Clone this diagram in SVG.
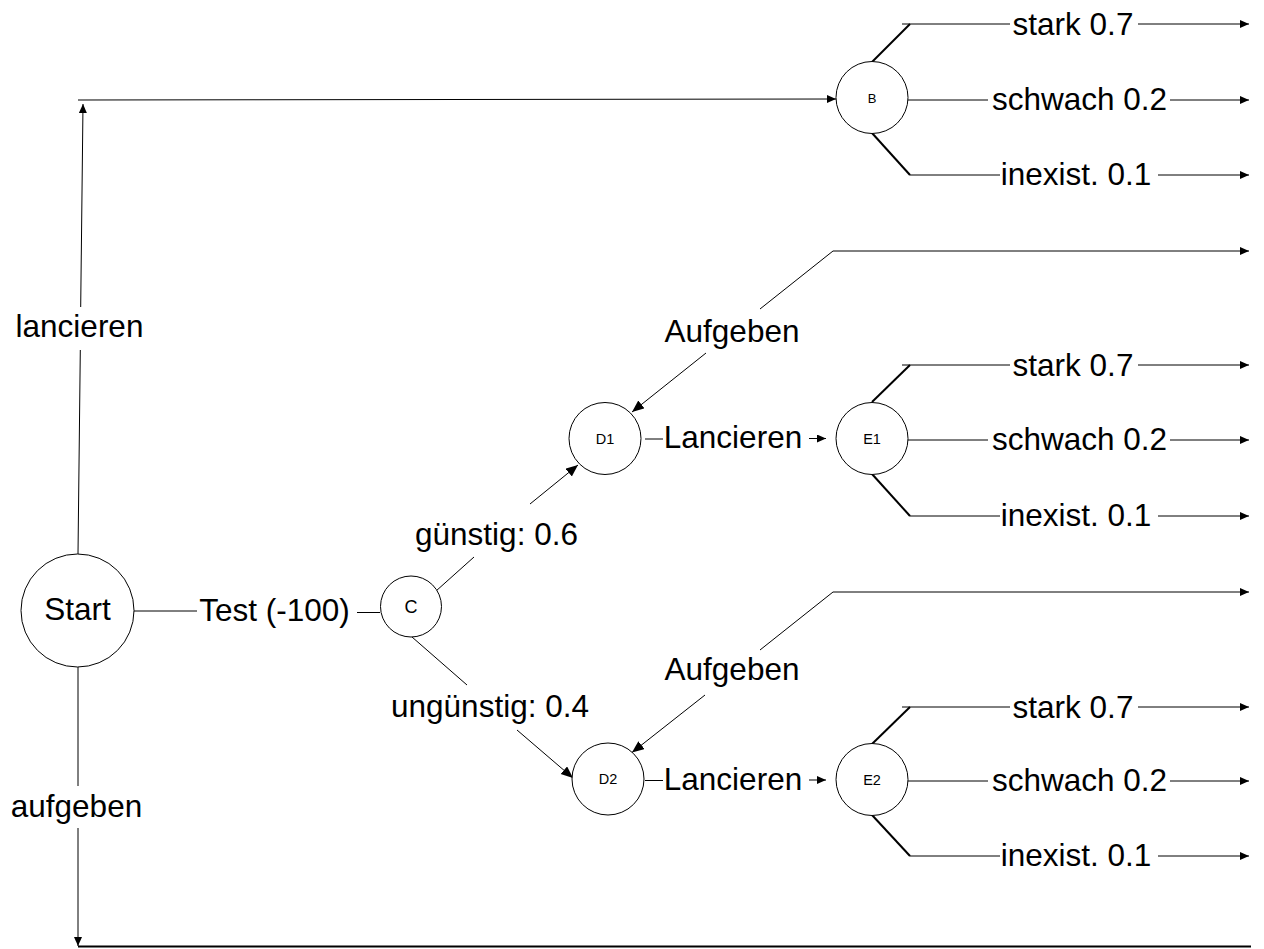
<svg xmlns="http://www.w3.org/2000/svg" width="1264" height="949" viewBox="0 0 1264 949">
<style>
  .bg{fill:#fff}
  .node{fill:#fff;stroke:#000;stroke-width:1}
  .ln{stroke:#000;stroke-width:1;fill:none}
  .thick{stroke:#000;stroke-width:2;fill:none}
  .lbl{font-family:"Liberation Sans",Arial,sans-serif;font-size:31.5px;fill:#000;text-anchor:middle}
  .nl{font-family:"Liberation Sans",Arial,sans-serif;fill:#000;text-anchor:middle}
</style>
<defs>
  <marker id="ah" markerUnits="userSpaceOnUse" markerWidth="10" markerHeight="9" refX="9" refY="4" orient="auto">
    <path d="M0,0 L9,4 L0,8 z" fill="#000"/>
  </marker>
  <marker id="ahb" markerUnits="userSpaceOnUse" markerWidth="13" markerHeight="11" refX="12" refY="5" orient="auto">
    <path d="M0,0 L12,5 L0,10 z" fill="#000"/>
  </marker>
</defs>
<rect class="bg" x="0" y="0" width="1264" height="949"/>

<g id="connectors">
  <!-- Start: lancieren -->
  <line class="ln" x1="78" y1="554" x2="80.3" y2="350"/>
  <line class="ln" x1="80.7" y1="307" x2="83" y2="104" marker-end="url(#ah)"/>
  <line class="ln" x1="78" y1="100" x2="836" y2="99" marker-end="url(#ah)"/>
  <!-- Start: aufgeben -->
  <line class="ln" x1="78" y1="667" x2="78" y2="786"/>
  <line class="ln" x1="78" y1="828" x2="78" y2="946" marker-end="url(#ah)"/>
  <line class="thick" x1="78" y1="946.5" x2="1251" y2="946.5"/>
  <!-- Start: Test -->
  <line class="ln" x1="134" y1="611" x2="197" y2="611"/>
  <line class="ln" x1="357" y1="612.5" x2="380" y2="612.5"/>
  <!-- C branches -->
  <line class="ln" x1="436" y1="591" x2="474" y2="557"/>
  <line class="ln" x1="530" y1="504" x2="578" y2="465" marker-end="url(#ahb)"/>
  <line class="ln" x1="412" y1="637" x2="467" y2="685"/>
  <line class="ln" x1="517" y1="730" x2="573" y2="778" marker-end="url(#ahb)"/>

  <!-- D1 -->
  <line class="ln" x1="706" y1="353" x2="632" y2="412" marker-end="url(#ahb)"/>
  <polyline class="ln" points="760,309 833,251 1249,251" marker-end="url(#ah)"/>
  <line class="ln" x1="645" y1="439" x2="663" y2="439"/>
  <line class="ln" x1="809" y1="438.5" x2="826" y2="438.5" marker-end="url(#ah)"/>
  <!-- D2 -->
  <line class="ln" x1="705" y1="695" x2="632" y2="752.5" marker-end="url(#ahb)"/>
  <polyline class="ln" points="760,650 833,592 1249,592" marker-end="url(#ah)"/>
  <line class="ln" x1="645" y1="780.5" x2="663" y2="780.5"/>
  <line class="ln" x1="809" y1="780" x2="826" y2="780" marker-end="url(#ah)"/>

  <!-- B branches -->
  <line class="thick" x1="872" y1="62" x2="910" y2="24"/>
  <line class="ln" x1="902" y1="24" x2="1010" y2="24"/>
  <line class="ln" x1="1138" y1="24" x2="1249" y2="24" marker-end="url(#ah)"/>
  <line class="ln" x1="908" y1="100" x2="988" y2="100"/>
  <line class="ln" x1="1170" y1="100" x2="1249" y2="100" marker-end="url(#ah)"/>
  <line class="thick" x1="872" y1="133" x2="910" y2="175"/>
  <line class="ln" x1="910" y1="175" x2="1000" y2="175"/>
  <line class="ln" x1="1158" y1="175" x2="1249" y2="175" marker-end="url(#ah)"/>

  <!-- E1 branches -->
  <line class="thick" x1="872" y1="402" x2="910" y2="365"/>
  <line class="ln" x1="902" y1="365" x2="1010" y2="365"/>
  <line class="ln" x1="1138" y1="365" x2="1249" y2="365" marker-end="url(#ah)"/>
  <line class="ln" x1="908" y1="440" x2="988" y2="440"/>
  <line class="ln" x1="1170" y1="440" x2="1249" y2="440" marker-end="url(#ah)"/>
  <line class="thick" x1="872" y1="474" x2="910" y2="516"/>
  <line class="ln" x1="910" y1="516" x2="1000" y2="516"/>
  <line class="ln" x1="1158" y1="516" x2="1249" y2="516" marker-end="url(#ah)"/>

  <!-- E2 branches -->
  <line class="thick" x1="872" y1="744" x2="910" y2="707"/>
  <line class="ln" x1="902" y1="707" x2="1010" y2="707"/>
  <line class="ln" x1="1138" y1="707" x2="1249" y2="707" marker-end="url(#ah)"/>
  <line class="ln" x1="908" y1="781" x2="988" y2="781"/>
  <line class="ln" x1="1170" y1="781" x2="1249" y2="781" marker-end="url(#ah)"/>
  <line class="thick" x1="872" y1="815" x2="910" y2="856"/>
  <line class="ln" x1="910" y1="856" x2="1000" y2="856"/>
  <line class="ln" x1="1158" y1="856" x2="1249" y2="856" marker-end="url(#ah)"/>

  <!-- edge labels -->
  <text class="lbl" x="79.5" y="337">lancieren</text>
  <text class="lbl" x="76.5" y="817">aufgeben</text>
  <text class="lbl" x="274.5" y="621">Test (-100)</text>
  <text class="lbl" x="496.5" y="545">günstig: 0.6</text>
  <text class="lbl" x="490" y="717">ungünstig: 0.4</text>
  <text class="lbl" x="732" y="342">Aufgeben</text>
  <text class="lbl" x="733" y="448">Lancieren</text>
  <text class="lbl" x="732" y="680">Aufgeben</text>
  <text class="lbl" x="733" y="790">Lancieren</text>
  <text class="lbl" x="1073" y="35">stark 0.7</text>
  <text class="lbl" x="1079.5" y="110">schwach 0.2</text>
  <text class="lbl" x="1076" y="185">inexist. 0.1</text>
  <text class="lbl" x="1073" y="376">stark 0.7</text>
  <text class="lbl" x="1079.5" y="450">schwach 0.2</text>
  <text class="lbl" x="1076" y="526">inexist. 0.1</text>
  <text class="lbl" x="1073" y="718">stark 0.7</text>
  <text class="lbl" x="1079.5" y="791">schwach 0.2</text>
  <text class="lbl" x="1076" y="866">inexist. 0.1</text>
</g>

<g id="start">
  <circle class="node" cx="77.5" cy="610.5" r="56.5"/>
  <text class="lbl" x="77.5" y="620">Start</text>
</g>
<g id="C">
  <circle class="node" cx="411" cy="606.5" r="30.5"/>
  <text class="nl" x="411" y="613" font-size="18">C</text>
</g>
<g id="B">
  <circle class="node" cx="872" cy="97.5" r="36"/>
  <text class="nl" x="872" y="103" font-size="13">B</text>
</g>
<g id="D1">
  <circle class="node" cx="605" cy="438.5" r="36"/>
  <text class="nl" x="605" y="443.5" font-size="14.5">D1</text>
</g>
<g id="E1">
  <circle class="node" cx="872" cy="438.5" r="36"/>
  <text class="nl" x="872" y="443.5" font-size="14.5">E1</text>
</g>
<g id="D2">
  <circle class="node" cx="608" cy="779" r="36"/>
  <text class="nl" x="608" y="784" font-size="14.5">D2</text>
</g>
<g id="E2">
  <circle class="node" cx="872" cy="779.5" r="36"/>
  <text class="nl" x="872" y="784.5" font-size="14.5">E2</text>
</g>
</svg>
